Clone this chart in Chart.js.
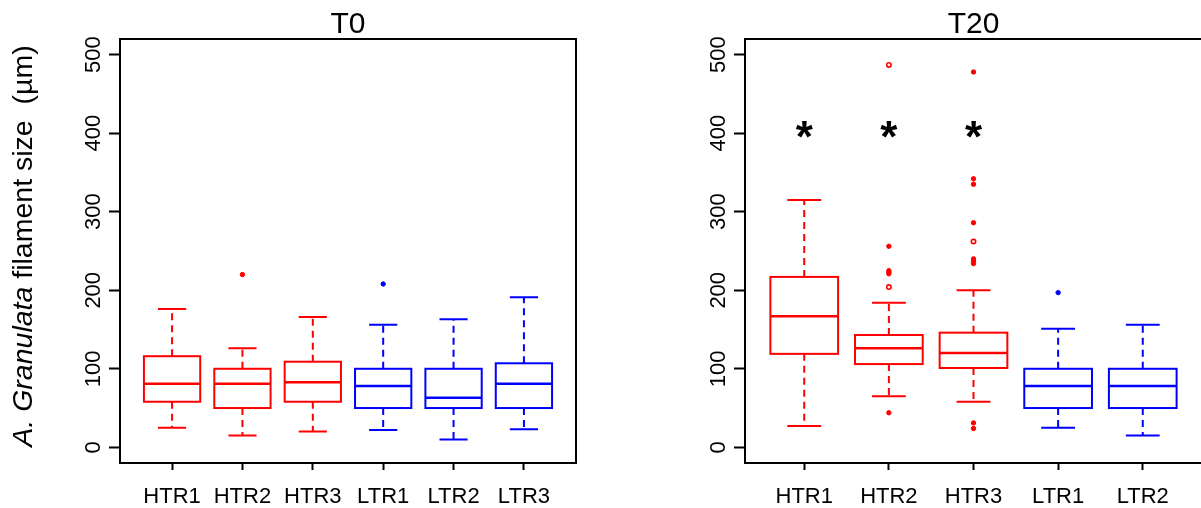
<!DOCTYPE html>
<html>
<head>
<meta charset="utf-8">
<script src="https://cdn.jsdelivr.net/npm/chart.js@4.4.1/dist/chart.umd.min.js"></script>
<style>
  html, body { margin: 0; padding: 0; background: #fff; overflow: hidden; width: 1201px; height: 508px; }
  #left { position: absolute; left: 0; top: 0; width: 600px; height: 508px; }
  #right { position: absolute; left: 600px; top: 0; width: 660px; height: 508px; }
</style>
</head>
<body>
<div id="left"><canvas id="c0"></canvas></div>
<div id="right"><canvas id="c20"></canvas></div>
<script>
const FONT = '"Liberation Sans", Arial, Helvetica, sans-serif';
const RED = '#ff0000';
const BLUE = '#0000ff';
const yTicks = [0, 100, 200, 300, 400, 500];

// T0 panel
const t0Groups = ['HTR1', 'HTR2', 'HTR3', 'LTR1', 'LTR2', 'LTR3'];
const t0Colors = [RED, RED, RED, BLUE, BLUE, BLUE];
const t0Min = [25, 15, 20, 22, 10, 23];
const t0Q1 = [58, 50, 58, 50, 50, 50];
const t0Median = [81, 81, 83, 78, 63, 81];
const t0Q3 = [116, 100, 109, 100, 100, 107];
const t0Max = [176, 126, 166, 156, 163, 191];
const t0Outliers = [[], [220], [], [208], [], []];
const t0Hollow = [[], [], [], [], [], []];
const t0Stars = [null, null, null, null, null, null];

// T20 panel
const t20Groups = ['HTR1', 'HTR2', 'HTR3', 'LTR1', 'LTR2'];
const t20Colors = [RED, RED, RED, BLUE, BLUE];
const t20Min = [27, 65, 58, 25, 15];
const t20Q1 = [119, 106, 101, 50, 50];
const t20Median = [167, 126, 120, 78, 78];
const t20Q3 = [217, 143, 146, 100, 100];
const t20Max = [315, 184, 200, 151, 156];
const t20Outliers = [[], [256, 225, 223, 221, 44], [478, 342, 335, 286, 240, 237, 234, 31, 24], [197], []];
const t20Hollow = [[], [487, 204], [262], [], []];
const t20Stars = [400, 400, 400, null, null];

// draws boxes, whiskers, staples, medians, stars and the frame from the scales
function makeBoxplot(s) {
  return {
    id: 'boxplot',
    beforeDatasetsDraw(chart) {
      const { ctx, scales: { x, y } } = chart;
      ctx.save();
      s.groups.forEach((g, i) => {
        const v = i + 1;
        const cx = x.getPixelForValue(v);
        const bl = x.getPixelForValue(v - 0.4), br = x.getPixelForValue(v + 0.4);
        const sl = x.getPixelForValue(v - 0.2), sr = x.getPixelForValue(v + 0.2);
        const pMin = y.getPixelForValue(s.min[i]), pQ1 = y.getPixelForValue(s.q1[i]);
        const pMed = y.getPixelForValue(s.median[i]), pQ3 = y.getPixelForValue(s.q3[i]);
        const pMax = y.getPixelForValue(s.max[i]);
        ctx.strokeStyle = s.colors[i];
        // whiskers
        ctx.lineWidth = 2;
        ctx.setLineDash([7, 5]);
        ctx.beginPath();
        ctx.moveTo(cx, pQ3); ctx.lineTo(cx, pMax);
        ctx.moveTo(cx, pQ1); ctx.lineTo(cx, pMin);
        ctx.stroke();
        ctx.setLineDash([]);
        // staples
        ctx.beginPath();
        ctx.moveTo(sl, pMax); ctx.lineTo(sr, pMax);
        ctx.moveTo(sl, pMin); ctx.lineTo(sr, pMin);
        ctx.stroke();
        // box
        ctx.fillStyle = '#fff';
        ctx.fillRect(bl, pQ3, br - bl, pQ1 - pQ3);
        ctx.strokeRect(bl, pQ3, br - bl, pQ1 - pQ3);
        // median
        ctx.lineWidth = 2.5;
        ctx.beginPath();
        ctx.moveTo(bl, pMed); ctx.lineTo(br, pMed);
        ctx.stroke();
        // significance star
        if (s.stars[i] != null) {
          const size = 44;
          ctx.fillStyle = '#000';
          ctx.font = 'bold ' + size + 'px ' + FONT;
          ctx.textAlign = 'center';
          ctx.textBaseline = 'alphabetic';
          ctx.fillText('*', cx, y.getPixelForValue(s.stars[i]) + 0.42 * size);
        }
      });
      ctx.restore();
    },
    afterDraw(chart) {
      const { ctx, chartArea: a, scales: { y } } = chart;
      ctx.save();
      ctx.strokeStyle = '#000';
      ctx.lineWidth = 2;
      ctx.strokeRect(a.left, a.top, a.right - a.left, a.bottom - a.top);
      ctx.fillStyle = '#000';
      // panel title, centred over the plot region
      ctx.font = '30px ' + FONT;
      ctx.textAlign = 'center';
      ctx.textBaseline = 'alphabetic';
      ctx.fillText(s.title, (a.left + Math.min(a.right, 602)) / 2, a.top - 5.7);
      // rotated y tick labels
      ctx.font = '22px ' + FONT;
      ctx.textBaseline = 'middle';
      yTicks.forEach(t => {
        ctx.save();
        ctx.translate(a.left - 26, y.getPixelForValue(t));
        ctx.rotate(-Math.PI / 2);
        ctx.fillText(String(t), 0, 0);
        ctx.restore();
      });
      // y axis title (left panel only)
      if (s.yTitle) {
        const parts = [
          { text: 'A. Granulata', font: 'italic 28.5px ' + FONT },
          { text: ' filament size  (µm)', font: '28.5px ' + FONT }
        ];
        let total = 0;
        parts.forEach(p => { ctx.font = p.font; p.w = ctx.measureText(p.text).width; total += p.w; });
        ctx.save();
        ctx.translate(24, 246);
        ctx.rotate(-Math.PI / 2);
        ctx.textAlign = 'left';
        let px = -total / 2;
        parts.forEach(p => { ctx.font = p.font; ctx.fillText(p.text, px, 0); px += p.w; });
        ctx.restore();
      }
      ctx.restore();
    }
  };
}

function pointsOf(list) {
  const pts = [];
  list.forEach((vals, i) => vals.forEach(v => pts.push({ x: i + 1, y: v })));
  return pts;
}
function colorsOf(list, colors) {
  const out = [];
  list.forEach((vals, i) => vals.forEach(() => out.push(colors[i])));
  return out;
}

function buildChart(id, cfg) {
  const s = cfg;
  return new Chart(document.getElementById(id), {
    type: 'scatter',
    data: {
      datasets: [
        {
          data: pointsOf(s.outliers),
          pointRadius: 2.2,
          pointBorderWidth: 1,
          pointBackgroundColor: colorsOf(s.outliers, s.colors),
          pointBorderColor: colorsOf(s.outliers, s.colors)
        },
        {
          data: pointsOf(s.hollow),
          pointRadius: 2.2,
          pointBorderWidth: 1.6,
          pointBackgroundColor: '#fff',
          pointBorderColor: colorsOf(s.hollow, s.colors)
        }
      ]
    },
    options: {
      responsive: true,
      maintainAspectRatio: false,
      animation: false,
      events: [],
      layout: { padding: { left: 0, right: s.padRight, top: 39, bottom: 0 } },
      plugins: {
        legend: { display: false },
        tooltip: { enabled: false },
        title: { display: false }
      },
      scales: {
        x: {
          type: 'linear',
          min: s.xMin,
          max: s.xMax,
          afterBuildTicks: sc => { sc.ticks = s.groups.map((g, i) => ({ value: i + 1 })); },
          afterFit: sc => { sc.height = 45; },
          border: { display: false },
          grid: { drawOnChartArea: false, drawTicks: true, tickLength: 7, tickWidth: 2, tickColor: '#000' },
          ticks: {
            autoSkip: false,
            maxRotation: 0,
            padding: 14,
            color: '#000',
            font: { family: FONT, size: 22 },
            callback: v => s.groups[v - 1]
          }
        },
        y: {
          type: 'linear',
          min: -20,
          max: 520,
          afterBuildTicks: sc => { sc.ticks = yTicks.map(v => ({ value: v })); },
          afterFit: sc => { sc.width = s.yWidth; },
          border: { display: false },
          grid: { drawOnChartArea: false, drawTicks: true, tickLength: 11, tickWidth: 2, tickColor: '#000' },
          ticks: { display: false }
        }
      }
    },
    plugins: [makeBoxplot(s)]
  });
}

buildChart('c0', {
  title: 'T0', groups: t0Groups, colors: t0Colors,
  min: t0Min, q1: t0Q1, median: t0Median, q3: t0Q3, max: t0Max,
  outliers: t0Outliers, hollow: t0Hollow, stars: t0Stars,
  xMin: 0.26, xMax: 6.74, yWidth: 120, padRight: 24, yTitle: true
});

buildChart('c20', {
  title: 'T20', groups: t20Groups, colors: t20Colors,
  min: t20Min, q1: t20Q1, median: t20Median, q3: t20Q3, max: t20Max,
  outliers: t20Outliers, hollow: t20Hollow, stars: t20Stars,
  xMin: 0.3, xMax: 5.7, yWidth: 145, padRight: 58, yTitle: false
});
</script>
</body>
</html>
